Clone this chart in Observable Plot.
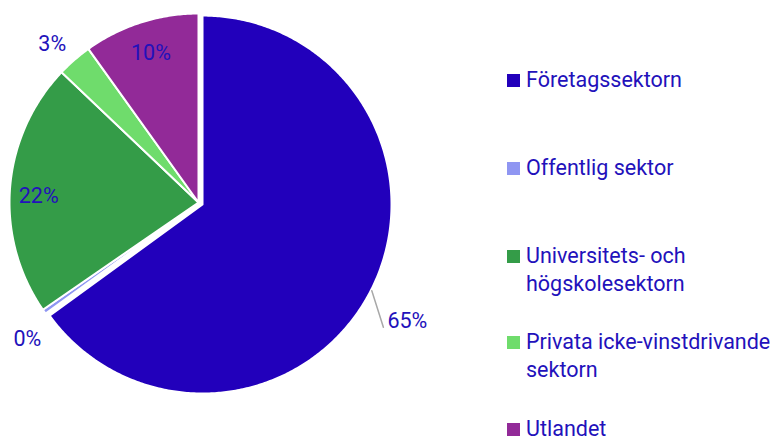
<!DOCTYPE html>
<html>
<head>
<meta charset="utf-8">
<script src="https://cdn.jsdelivr.net/npm/d3@7"></script>
<script src="https://cdn.jsdelivr.net/npm/@observablehq/plot@0.6"></script>
<style>
  html, body { margin: 0; padding: 0; background: #fff; }
  #wrap { position: relative; width: 775px; height: 440px; font-family: Roboto, "Noto Sans", sans-serif; overflow: hidden; }
  #legend { position: absolute; left: 0; top: 0; }
  .item { position: absolute; left: 507px; color: #2211bb; font-size: 21.5px; line-height: 28px; white-space: nowrap; }
  .sw { position: absolute; left: 0; top: 8px; width: 13px; height: 13px; }
  .txt { position: absolute; left: 19px; top: 0; }
</style>
</head>
<body>
<div id="wrap"><div id="chart"></div><div id="legend"></div></div>
<script>
// ---- data ----
const categories = ["Företagssektorn", "Offentlig sektor", "Universitets- och högskolesektorn", "Privata icke-vinstdrivande sektorn", "Utlandet"];
const legendLines = [["Företagssektorn"], ["Offentlig sektor"], ["Universitets- och", "högskolesektorn"], ["Privata icke-vinstdrivande", "sektorn"], ["Utlandet"]];
const values = [65.0, 0.4, 21.7, 3.0, 9.9];
const colors = ["#2200bb", "#8f96f2", "#349c48", "#6fdc6c", "#922a98"];

// ---- layout ----
const W = 775, H = 440;
const cx = 198, cy = 202, R = 189;
const explode = [4.5, 0, 0, 0, 0];
const labelLayout = [
  {angleDeg: 124, r: 1.18, anchor: "start", dx: 4, dy: -6, leader: true},
  {angleDeg: 231.3, r: 1.16, anchor: "middle", dx: 0, dy: 0},
  {angleDeg: 272.2, r: 0.846, anchor: "middle", dx: 0, dy: 0},
  {angleDeg: 317.2, r: 1.139, anchor: "middle", dx: 0, dy: 0},
  {angleDeg: 342.4, r: 0.832, anchor: "middle", dx: 0, dy: 0}
];
const legendTops = [66, 154, 242, 328, 415];
const textColor = "#2211bb";

const data = categories.map((c, i) => ({name: c, value: values[i], color: colors[i], i}));
const arcs = d3.pie().sort(null).value(d => d.value)(data);

const pt = (a, rr, ox = 0, oy = 0) => ({x: cx + ox + rr * Math.sin(a), y: cy + oy - rr * Math.cos(a)});

const sliceMarks = arcs.map((a, i) => {
  const mid = (a.startAngle + a.endAngle) / 2;
  const ox = explode[i] * Math.sin(mid), oy = -explode[i] * Math.cos(mid);
  const n = Math.max(2, Math.ceil((a.endAngle - a.startAngle) / 0.01));
  const pts = [{x: cx + ox, y: cy + oy}];
  for (let k = 0; k <= n; k++) {
    const t = a.startAngle + (a.endAngle - a.startAngle) * k / n;
    pts.push(pt(t, R, ox, oy));
  }
  return Plot.line(pts, {x: "x", y: "y", fill: a.data.color, stroke: "white", strokeWidth: 2, strokeLinejoin: "round", curve: "linear-closed"});
});

const labelData = arcs.map((a, i) => {
  const L = labelLayout[i];
  const mid = (a.startAngle + a.endAngle) / 2;
  const ang = L.angleDeg == null ? mid : L.angleDeg * Math.PI / 180;
  const p = pt(ang, R * L.r);
  return {x: p.x, y: p.y, text: Math.round(a.data.value) + "%", anchor: L.anchor, dx: L.dx, dy: L.dy, mid, ox: explode[i] * Math.sin(mid), oy: -explode[i] * Math.cos(mid), leader: L.leader};
});

const leaderPts = [];
labelData.forEach((l, i) => {
  if (l.leader) {
    leaderPts.push({...pt(l.mid, R + 1, l.ox, l.oy), g: i});
    leaderPts.push({x: l.x, y: l.y, g: i});
  }
});

const textMarks = labelData.map(l => Plot.text([l], {x: "x", y: "y", text: "text", textAnchor: l.anchor, dx: l.dx, dy: l.dy, fill: textColor, fontSize: 21.5, fontFamily: "Roboto"}));

const chart = Plot.plot({
  width: W, height: H,
  margin: 0,
  x: {type: "linear", domain: [0, W], range: [0, W], axis: null},
  y: {type: "linear", domain: [0, H], range: [0, H], axis: null},
  style: {fontFamily: "Roboto, sans-serif", background: "white"},
  marks: [
    ...sliceMarks,
    Plot.line(leaderPts, {x: "x", y: "y", z: "g", stroke: "#a8a8a8", strokeWidth: 1.5}),
    ...textMarks
  ]
});
document.getElementById("chart").appendChild(chart);

const legend = document.getElementById("legend");
categories.forEach((c, i) => {
  const it = document.createElement("div");
  it.className = "item";
  it.style.top = legendTops[i] + "px";
  const sw = document.createElement("div");
  sw.className = "sw";
  sw.style.background = colors[i];
  const tx = document.createElement("div");
  tx.className = "txt";
  tx.innerHTML = legendLines[i].join("<br>");
  it.appendChild(sw); it.appendChild(tx);
  legend.appendChild(it);
});
</script>
</body>
</html>
